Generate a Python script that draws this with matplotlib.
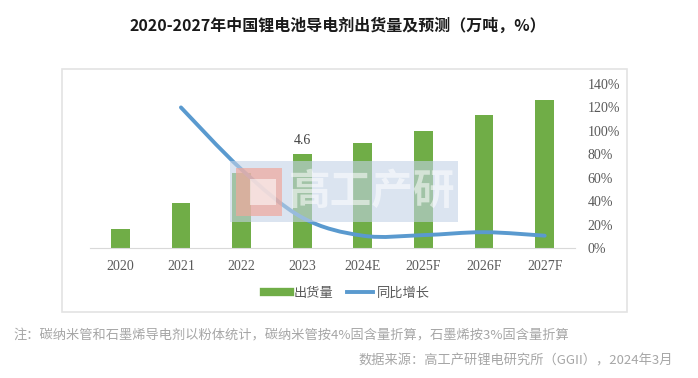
import matplotlib
matplotlib.use('Agg')
import matplotlib.pyplot as plt
import numpy as np
from matplotlib.path import Path
from matplotlib.patches import PathPatch, Rectangle
from matplotlib.lines import Line2D
from matplotlib.ticker import PercentFormatter

plt.rcParams['font.family'] = ['Noto Sans CJK SC', 'DejaVu Sans']

# Data
years = ['2020', '2021', '2022', '2023', '2024E', '2025F', '2026F', '2027F']
shipment = [0.93, 2.2, 3.65, 4.6, 5.1, 5.7, 6.5, 7.2]          # 万吨
growth = [np.nan, 120, 67, 26, 10.5, 11, 13.5, 10.5]           # %
label_year = '2023'

green = '#70AD47'
blue = '#5A9ACF'
gray_txt = '#595959'

W, H = 698, 378
fig = plt.figure(figsize=(W / 100, H / 100), dpi=100)
fig.patch.set_facecolor('white')

# chart frame
fig.add_artist(Rectangle((62 / W, 1 - 312 / H), 565 / W, 243 / H, transform=fig.transFigure,
                         facecolor='none', edgecolor='#E3E3E3', lw=1.2))

ax1 = fig.add_axes([90 / W, 1 - 248 / H, 485 / W, 164 / H])
x = np.arange(len(years))
ax1.bar(x, shipment, width=0.31, color=green, zorder=2)
ax1.set_xlim(-0.5, len(years) - 0.5)
ax1.set_ylim(0, 8)
ax1.set_yticks([])
for s in ['top', 'right', 'left']:
    ax1.spines[s].set_visible(False)
ax1.spines['bottom'].set_color('#D9D9D9')
ax1.set_xticks(x)
ax1.set_xticklabels(years, family='Liberation Serif', fontsize=10, color=gray_txt)
ax1.tick_params(axis='x', length=0, pad=9)

i = years.index(label_year)
ax1.annotate(f'{shipment[i]:.1f}', (x[i], shipment[i]), xytext=(0, 5), textcoords='offset points',
             ha='center', va='bottom', family='Liberation Serif', fontsize=10, color='#404040')

# growth line (smoothed like Excel)
ax2 = ax1.twinx()
ax2.set_ylim(0, 140)
ax2.set_yticks(np.arange(0, 141, 20))
ax2.yaxis.set_major_formatter(PercentFormatter(decimals=0))
for lab in ax2.get_yticklabels():
    lab.set_family('Liberation Serif')
ax2.tick_params(axis='y', length=0, pad=9, labelsize=10, labelcolor=gray_txt)
for s in ax2.spines.values():
    s.set_visible(False)

g = np.array(growth, dtype=float)
ok = ~np.isnan(g)
px, py = x[ok].astype(float), g[ok]
verts = [(px[0], py[0])]
codes = [Path.MOVETO]
n = len(px)
for k in range(n - 1):
    p0 = np.array([px[max(k - 1, 0)], py[max(k - 1, 0)]])
    p1 = np.array([px[k], py[k]])
    p2 = np.array([px[k + 1], py[k + 1]])
    p3 = np.array([px[min(k + 2, n - 1)], py[min(k + 2, n - 1)]])
    c1 = p1 + (p2 - p0) / 6
    c2 = p2 - (p3 - p1) / 6
    verts += [tuple(c1), tuple(c2), tuple(p2)]
    codes += [Path.CURVE4] * 3
ax2.add_patch(PathPatch(Path(verts, codes), facecolor='none', edgecolor=blue, lw=2.8,
                        capstyle='round', zorder=3))

# watermark
fig.add_artist(Rectangle((230 / W, 1 - 222 / H), 228 / W, 61 / H, transform=fig.transFigure,
                         facecolor='#C3D2E6', edgecolor='none', alpha=0.6, zorder=5))
fig.add_artist(Rectangle((236 / W, 1 - 216 / H), 46 / W, 48 / H, transform=fig.transFigure,
                         facecolor='#EFA89C', edgecolor='none', alpha=0.7, zorder=6))
fig.add_artist(Rectangle((250 / W, 1 - 205 / H), 26 / W, 26 / H, transform=fig.transFigure,
                         facecolor='white', edgecolor='none', alpha=0.55, zorder=7))
fig.text(372 / W, 1 - 192 / H, '高工产研', ha='center', va='center', fontsize=30,
         fontweight='bold', color='white', alpha=0.55, zorder=8)

# legend
handles = [Line2D([], [], color=green, lw=6), Line2D([], [], color=blue, lw=2.8)]
fig.legend(handles, ['出货量', '同比增长'], loc='center', bbox_to_anchor=(347 / W, 1 - 293 / H),
           ncol=2, frameon=False, fontsize=9.5, handlelength=2.0, handletextpad=0.3,
           columnspacing=1.0, labelcolor=gray_txt)

# title and notes
fig.text(338 / W, 1 - 26 / H, '2020-2027年中国锂电池导电剂出货量及预测（万吨，%）', ha='center', va='center',
         fontsize=11.5, fontweight='bold', color='#1A1A1A')
fig.text(13 / W, 1 - 336 / H, '注：碳纳米管和石墨烯导电剂以粉体统计，碳纳米管按4%固含量折算，石墨烯按3%固含量折算',
         ha='left', va='center', fontsize=9.5, color='#A6A6A6', style='italic')
fig.text(673 / W, 1 - 361 / H, '数据来源：高工产研锂电研究所（GGII），2024年3月',
         ha='right', va='center', fontsize=9.5, color='#A6A6A6', style='italic')

fig.savefig('out.png', dpi=100, facecolor='white')
